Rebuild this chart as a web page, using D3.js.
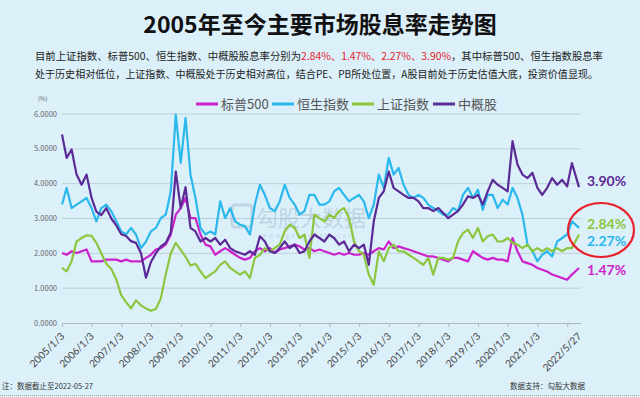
<!DOCTYPE html>
<html>
<head>
<meta charset="utf-8">
<script src="https://cdn.jsdelivr.net/npm/d3@7"></script>
<style>
  html, body { margin: 0; padding: 0; background: #dcf0fa; }
  svg { display: block; font-family: "Noto Sans CJK SC", "Noto Sans", sans-serif; }
</style>
</head>
<body>
<div id="chart"></div>
<script>
// Data (dividend yield, %), one point every two months + last trading day
const seriesNames = ["标普500", "恒生指数", "上证指数", "中概股"];
const seriesColors = ["#cc22cc", "#2bb8ec", "#8cc63f", "#5b2a96"];

const spx = [
  2.01, 1.96, 2.06, 2.01, 2.06, 2.11,
  1.77, 1.77, 1.77, 1.82, 1.82, 1.82,
  1.77, 1.82, 1.77, 1.77, 1.77, 1.87,
  1.96, 2.11, 2.15, 2.25, 2.54, 3.11,
  3.30, 3.59, 3.01, 3.01, 2.54, 2.25,
  2.20, 1.96, 2.06, 2.15, 2.06, 1.96,
  1.87, 1.82, 1.87, 2.06, 2.15, 2.06,
  2.15, 2.01, 2.11, 2.15, 2.20, 2.25,
  2.20, 2.11, 2.15, 2.06, 2.11, 2.06,
  2.01, 1.96, 2.01, 1.96, 2.01, 1.96,
  1.96, 2.01, 1.96, 2.06, 2.15, 2.11,
  2.34, 2.15, 2.20, 2.15, 2.11, 2.06,
  2.01, 1.96, 1.91, 1.91, 1.87, 1.82,
  1.77, 1.87, 1.87, 1.82, 1.77, 2.06,
  1.96, 1.87, 1.82, 1.87, 1.82, 1.82,
  1.77, 2.44, 2.06, 1.77, 1.72, 1.67,
  1.58, 1.53, 1.48, 1.39, 1.34, 1.29,
  1.24, 1.39, 1.58
];

const hsi = [
  3.40, 3.88, 3.30, 3.40, 3.49, 3.59,
  3.30, 2.92, 3.30, 3.40, 3.21, 2.92,
  2.63, 2.54, 2.73, 2.54, 2.15, 2.34,
  2.63, 2.73, 3.01, 3.11, 3.78, 5.98,
  4.60, 5.89, 4.26, 3.59, 2.73, 2.54,
  2.63, 2.54, 3.49, 3.01, 3.30, 2.92,
  2.82, 2.78, 2.54, 3.40, 3.97, 3.68,
  3.30, 3.21, 3.49, 3.97, 3.59, 3.40,
  3.11, 3.21, 3.68, 3.68, 3.40, 3.40,
  3.49, 3.78, 3.88, 3.68, 3.49, 3.59,
  3.68, 3.49, 3.01, 3.40, 4.26, 3.88,
  4.74, 4.26, 4.45, 3.97, 3.68, 3.59,
  3.68, 3.59, 3.40, 3.30, 3.21, 3.11,
  3.11, 3.30, 3.21, 3.68, 3.88, 3.59,
  3.83, 3.25, 3.68, 3.68, 3.30, 3.54,
  3.40, 3.88, 3.59, 3.11, 2.25, 2.06,
  1.77, 1.96, 2.06, 1.91, 2.34, 2.44,
  2.54, 2.92, 2.73
];

const sse = [
  1.58, 1.48, 1.77, 2.34, 2.44, 2.52,
  2.50, 2.30, 2.00, 1.70, 1.55, 1.25,
  0.80, 0.60, 0.42, 0.65, 0.50, 0.42,
  0.35, 0.40, 0.70, 1.40, 2.00, 2.30,
  2.10, 1.90, 1.65, 1.70, 1.48, 1.29,
  1.39, 1.48, 1.67, 1.77, 1.58, 1.48,
  1.39, 1.48, 1.29, 1.87, 1.96, 2.15,
  2.06, 2.15, 2.25, 2.63, 2.82, 2.73,
  2.44, 2.54, 1.87, 3.11, 3.01, 2.92,
  3.11, 3.01, 3.21, 3.30, 3.01, 2.34,
  2.06, 1.96, 1.39, 1.10, 2.06, 1.77,
  2.15, 2.25, 2.06, 2.06, 1.96, 1.87,
  1.77, 1.67, 1.87, 1.39, 1.87, 1.87,
  1.82, 1.87, 2.34, 2.58, 2.68, 2.44,
  2.73, 2.34, 2.49, 2.54, 2.34, 2.34,
  2.44, 2.30, 2.25, 2.15, 2.25, 2.06,
  2.15, 2.06, 2.15, 2.06, 2.15, 2.06,
  2.15, 2.15, 2.54
];

const china = [
  5.41, 4.74, 4.98, 4.26, 3.97, 4.26,
  3.59, 3.20, 3.10, 3.30, 3.00, 2.80,
  2.55, 2.50, 2.35, 2.30, 2.00, 1.30,
  1.75, 2.00, 2.20, 2.30, 2.60, 4.35,
  3.30, 3.90, 2.73, 2.63, 2.34, 2.44,
  2.34, 2.44, 2.25, 2.39, 2.15, 2.06,
  2.01, 1.96, 2.06, 1.96, 2.49, 2.34,
  2.06, 2.01, 2.15, 2.34, 2.15, 2.25,
  2.01, 2.06, 2.34, 2.54, 2.44, 2.34,
  2.54, 2.44, 2.25, 2.34, 2.06, 2.25,
  2.15, 2.25, 1.67, 2.92, 3.59, 3.78,
  4.35, 3.88, 3.78, 3.68, 3.59, 3.59,
  3.49, 3.30, 3.30, 3.21, 3.30, 3.16,
  3.01, 3.11, 3.21, 3.40, 3.64, 3.59,
  3.68, 3.40, 3.78, 4.11, 3.97, 3.88,
  3.78, 5.22, 4.55, 4.26, 4.16, 4.31,
  3.88, 3.68, 3.88, 4.16, 3.97, 4.11,
  3.92, 4.59, 3.90
];

const latestLabels = ["1.47%", "2.27%", "2.84%", "3.90%"];
const yTicks = [0, 1, 2, 3, 4, 5, 6];
const tickYears = d3.range(2005, 2022);

// Dates: every second month from Jan 2005, then the cut-off date
const startDate = new Date(2005, 0, 3);
const endDate = new Date(2022, 4, 27);
const dates = d3.timeMonth.every(2).range(new Date(2005, 0, 1), new Date(2022, 4, 1));
dates[0] = startDate;
dates.push(endDate);

const allSeries = [spx, hsi, sse, china];

// Set up SVG canvas
const width = 640;
const height = 397;

const svg = d3.select("#chart")
    .append("svg")
    .attr("width", width)
    .attr("height", height);

svg.append("rect")
    .attr("width", width)
    .attr("height", height)
    .attr("fill", "#dcf0fa");

// Title and notes
svg.append("text")
    .attr("x", 320)
    .attr("y", 33)
    .attr("text-anchor", "middle")
    .attr("font-size", 23)
    .attr("font-weight", "bold")
    .attr("fill", "#111")
    .text("2005年至今主要市场股息率走势图");

const line1 = svg.append("text")
    .attr("x", 35)
    .attr("y", 60)
    .attr("font-size", 10.5)
    .attr("fill", "#222")
    .attr("textLength", 568)
    .attr("lengthAdjust", "spacingAndGlyphs");
line1.append("tspan").text("目前上证指数、标普500、恒生指数、中概股股息率分别为");
line1.append("tspan").attr("fill", "#e8202a").text("2.84%、1.47%、2.27%、3.90%");
line1.append("tspan").text("，其中标普500、恒生指数股息率");

svg.append("text")
    .attr("x", 35)
    .attr("y", 78)
    .attr("font-size", 10.5)
    .attr("fill", "#222")
    .attr("textLength", 563)
    .attr("lengthAdjust", "spacingAndGlyphs")
    .text("处于历史相对低位，上证指数、中概股处于历史相对高位，结合PE、PB所处位置，A股目前处于历史估值大底，投资价值显现。");

// Scales
const x = d3.scaleTime()
    .domain([startDate, endDate])
    .range([62, 579]);

const y = d3.scaleLinear()
    .domain([0, 6])
    .range([323, 114]);

// Gridlines
svg.append("g")
    .selectAll("line")
    .data(yTicks.filter(d => d > 0))
    .enter()
    .append("line")
    .attr("x1", 62)
    .attr("x2", 581)
    .attr("y1", d => y(d))
    .attr("y2", d => y(d))
    .attr("stroke", "#bcd0dc")
    .attr("stroke-width", 1);

// Y axis labels
svg.append("g")
    .selectAll("text")
    .data(yTicks)
    .enter()
    .append("text")
    .attr("x", 57)
    .attr("y", d => y(d) + 2.5)
    .attr("text-anchor", "end")
    .attr("font-size", 7.5)
    .attr("fill", "#666")
    .text(d => d3.format(".4f")(d));

svg.append("text")
    .attr("x", 38)
    .attr("y", 101)
    .attr("font-size", 6)
    .attr("fill", "#666")
    .text("(%)");

// X axis
const tickDates = tickYears.map(yr => new Date(yr, 0, 3)).concat([new Date(2022, 0, 3)]);
const xAxis = d3.axisBottom(x)
    .tickValues(tickDates)
    .tickSize(4)
    .tickFormat("");

const gx = svg.append("g")
    .attr("transform", "translate(0,323)")
    .call(xAxis);
gx.select(".domain").attr("stroke", "#aab8c2").attr("d", "M62,0.5H581");
gx.selectAll(".tick line").attr("stroke", "#aab8c2");

const labelDates = tickYears.map(yr => new Date(yr, 0, 3)).concat([endDate]);
svg.append("g")
    .selectAll("text")
    .data(labelDates)
    .enter()
    .append("text")
    .attr("transform", d => `translate(${x(d) + 3},${337}) rotate(-45)`)
    .attr("text-anchor", "end")
    .attr("font-family", "Lato, sans-serif")
    .attr("font-size", 10)
    .attr("fill", "#444")
    .text(d => d3.timeFormat("%Y/%-m/%-d")(d));

// Watermark
const wm = svg.append("g").attr("opacity", 0.35);
wm.append("rect")
    .attr("x", 232).attr("y", 205)
    .attr("width", 20).attr("height", 22)
    .attr("rx", 3)
    .attr("fill", "none")
    .attr("stroke", "#8fa6ba")
    .attr("stroke-width", 3);
wm.append("text")
    .attr("x", 256).attr("y", 226)
    .attr("font-size", 22)
    .attr("fill", "#8fa6ba")
    .text("勾股大数据");
wm.append("text")
    .attr("x", 262).attr("y", 238)
    .attr("font-size", 6)
    .attr("letter-spacing", 2)
    .attr("fill", "#8fa6ba")
    .text("www.gougudata.com");

// Lines
const line = d3.line()
    .x((d, i) => x(dates[i]))
    .y(d => y(d));

svg.append("g")
    .selectAll("path")
    .data(allSeries)
    .enter()
    .append("path")
    .attr("d", d => line(d))
    .attr("fill", "none")
    .attr("stroke", (d, i) => seriesColors[i])
    .attr("stroke-width", 2.2)
    .attr("stroke-linejoin", "round");

// Legend
const legendX = [196, 272, 352, 433];
const legend = svg.append("g")
    .selectAll("g")
    .data(seriesNames)
    .enter()
    .append("g")
    .attr("transform", (d, i) => `translate(${legendX[i]},104)`);

legend.append("line")
    .attr("x1", 0).attr("x2", 22)
    .attr("stroke", (d, i) => seriesColors[i])
    .attr("stroke-width", 3);

legend.append("text")
    .attr("x", 25)
    .attr("y", 4.5)
    .attr("font-size", 13)
    .attr("fill", "#555")
    .text(d => d);

// Latest values on the right
const labelY = [275, 246, 229, 186];
svg.append("g")
    .selectAll("text")
    .data(latestLabels)
    .enter()
    .append("text")
    .attr("x", 587)
    .attr("y", (d, i) => labelY[i])
    .attr("font-family", "Lato, sans-serif")
    .attr("font-size", 14)
    .attr("font-weight", "bold")
    .attr("fill", (d, i) => seriesColors[i])
    .text(d => d);

svg.append("ellipse")
    .attr("cx", 601)
    .attr("cy", 230)
    .attr("rx", 33)
    .attr("ry", 27)
    .attr("fill", "none")
    .attr("stroke", "#e8202a")
    .attr("stroke-width", 2.2);

// Footer
svg.append("text")
    .attr("x", 2)
    .attr("y", 389)
    .attr("font-size", 7.5)
    .attr("fill", "#333")
    .text("注：数据截止至2022-05-27");

svg.append("text")
    .attr("x", 510)
    .attr("y", 389)
    .attr("font-size", 7.5)
    .attr("fill", "#333")
    .text("数据支持：勾股大数据");

svg.append("line")
    .attr("x1", 0).attr("x2", width)
    .attr("y1", 395.5).attr("y2", 395.5)
    .attr("stroke", "#999")
    .attr("stroke-dasharray", "1,1");
</script>
</body>
</html>
